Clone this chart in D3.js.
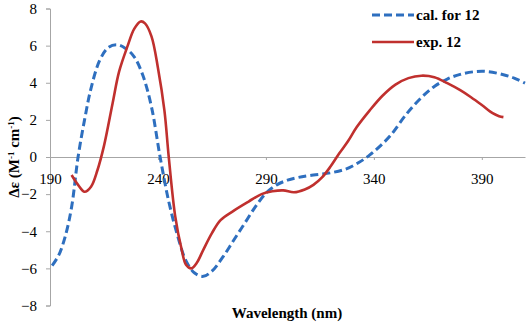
<!DOCTYPE html>
<html>
<head>
<meta charset="utf-8">
<script src="https://cdn.jsdelivr.net/npm/d3@7"></script>
</head>
<body style="margin:0; background:#fff">
<script>
// calculated ECD (blue dashed)
const calWl = [191, 194, 197, 200, 203, 206, 209, 213, 217, 221, 225, 229, 233, 237, 241, 245, 249, 253, 257, 261, 265, 270, 275, 280, 285, 290, 295, 300, 305, 312, 320, 327, 333, 338, 343, 348, 355, 362, 368, 374, 380, 387, 393, 400, 405, 410];
const calVals = [-5.85, -5.3, -4.3, -2.7, 0, 2.0, 3.7, 5.2, 5.9, 6.05, 5.85, 5.4, 4.4, 2.7, 0, -2.4, -4.2, -5.6, -6.25, -6.43, -6.15, -5.4, -4.5, -3.6, -2.7, -1.95, -1.5, -1.25, -1.1, -0.97, -0.85, -0.65, -0.3, 0.1, 0.6, 1.2, 2.3, 3.2, 3.8, 4.2, 4.45, 4.6, 4.6, 4.43, 4.25, 3.98];

// experimental ECD (red solid)
const expWl = [200, 203, 206, 209, 212, 215, 219, 222, 226, 229, 232, 234, 237, 240, 243, 245, 248, 251, 253, 255.5, 258, 261, 265, 269, 275, 282, 288, 293, 298, 303, 308, 312, 316, 320, 324, 328, 332, 338, 344, 350, 356, 362, 368, 374, 380, 385, 390, 395, 398, 400];
const expVals = [-0.97, -1.5, -1.87, -1.6, -0.7, 0.6, 2.9, 4.6, 6.0, 6.9, 7.3, 7.2, 6.5, 4.8, 2.5, 0.0, -3.2, -5.0, -5.8, -6.0, -5.7, -5.0, -4.1, -3.4, -2.9, -2.4, -2.0, -1.85, -1.8, -1.9, -1.75, -1.5, -1.1, -0.5, 0.2, 0.85, 1.6, 2.5, 3.3, 3.9, 4.25, 4.38, 4.3, 3.98, 3.6, 3.22, 2.8, 2.36, 2.2, 2.15];

const xTicks = [190, 240, 290, 340, 390];
const yTicks = [-8, -6, -4, -2, 0, 2, 4, 6, 8];
const seriesNames = ["cal. for 12", "exp. 12"];

const W = 529, H = 324;
const FONT = "Liberation Serif";
const blue = "#2e6fbf", red = "#c0302e", axisCol = "#a6a6a6";

const svg = d3.select("body").append("svg")
    .attr("width", W)
    .attr("height", H);

const x = d3.scaleLinear([190, 410], [50, 525]);
const y = d3.scaleLinear([-8, 8], [305.5, 8.5]);

// y axis
const yAxis = svg.append("g")
    .attr("transform", "translate(50,0)")
    .call(d3.axisLeft(y).tickValues(yTicks).tickSize(4).tickPadding(9));
yAxis.select(".domain").attr("stroke", axisCol);
yAxis.selectAll(".tick line").attr("stroke", axisCol);
yAxis.selectAll(".tick text").attr("fill", "#000").attr("font-size", 15);

// x axis at y = 0
const xAxis = svg.append("g")
    .attr("transform", `translate(0,${y(0)})`)
    .call(d3.axisBottom(x).tickValues(xTicks).tickSize(3).tickSizeOuter(0).tickPadding(13));
xAxis.select(".domain").attr("stroke", axisCol);
xAxis.selectAll(".tick line").attr("stroke", axisCol);
xAxis.selectAll(".tick text").attr("fill", "#000").attr("font-size", 15);

// lines
const line = d3.line()
    .x(d => x(d[0]))
    .y(d => y(d[1]))
    .curve(d3.curveCatmullRom);

svg.append("path")
    .datum(calWl.map((w, i) => [w, calVals[i]]))
    .attr("fill", "none")
    .attr("stroke", blue)
    .attr("stroke-width", 3)
    .attr("stroke-dasharray", "8,4")
    .attr("d", line);

svg.append("path")
    .datum(expWl.map((w, i) => [w, expVals[i]]))
    .attr("fill", "none")
    .attr("stroke", red)
    .attr("stroke-width", 2.6)
    .attr("d", line);

// axis titles
svg.append("text")
    .attr("x", 287)
    .attr("y", 318)
    .attr("text-anchor", "middle")
    .attr("font-size", 15)
    .attr("font-weight", "bold")
    .text("Wavelength (nm)");

const yt = svg.append("text")
    .attr("transform", "translate(19,157) rotate(-90)")
    .attr("text-anchor", "middle")
    .attr("font-size", 15)
    .attr("font-weight", "bold");
yt.append("tspan").text("Δε (M");
yt.append("tspan").attr("dy", -5).attr("font-size", 9).text("-1");
yt.append("tspan").attr("dy", 5).text(" cm");
yt.append("tspan").attr("dy", -5).attr("font-size", 9).text("-1");
yt.append("tspan").attr("dy", 5).text(")");

// legend
const legend = svg.append("g");
const legY = [15, 42];
const legCols = [blue, red];
legend.selectAll("line")
    .data(seriesNames)
    .enter()
    .append("line")
    .attr("x1", 372).attr("x2", 414)
    .attr("y1", (d, i) => legY[i]).attr("y2", (d, i) => legY[i])
    .attr("stroke", (d, i) => legCols[i])
    .attr("stroke-width", (d, i) => i == 0 ? 3 : 2.6)
    .attr("stroke-dasharray", (d, i) => i == 0 ? "8,4" : null);
legend.selectAll("text")
    .data(seriesNames)
    .enter()
    .append("text")
    .attr("x", 416)
    .attr("y", (d, i) => legY[i] + 5)
    .attr("font-size", 15)
    .attr("font-weight", "bold")
    .text(d => d);

// serif everywhere
svg.selectAll("text").attr("font-family", FONT).style("font-family", FONT);
</script>
</body>
</html>
